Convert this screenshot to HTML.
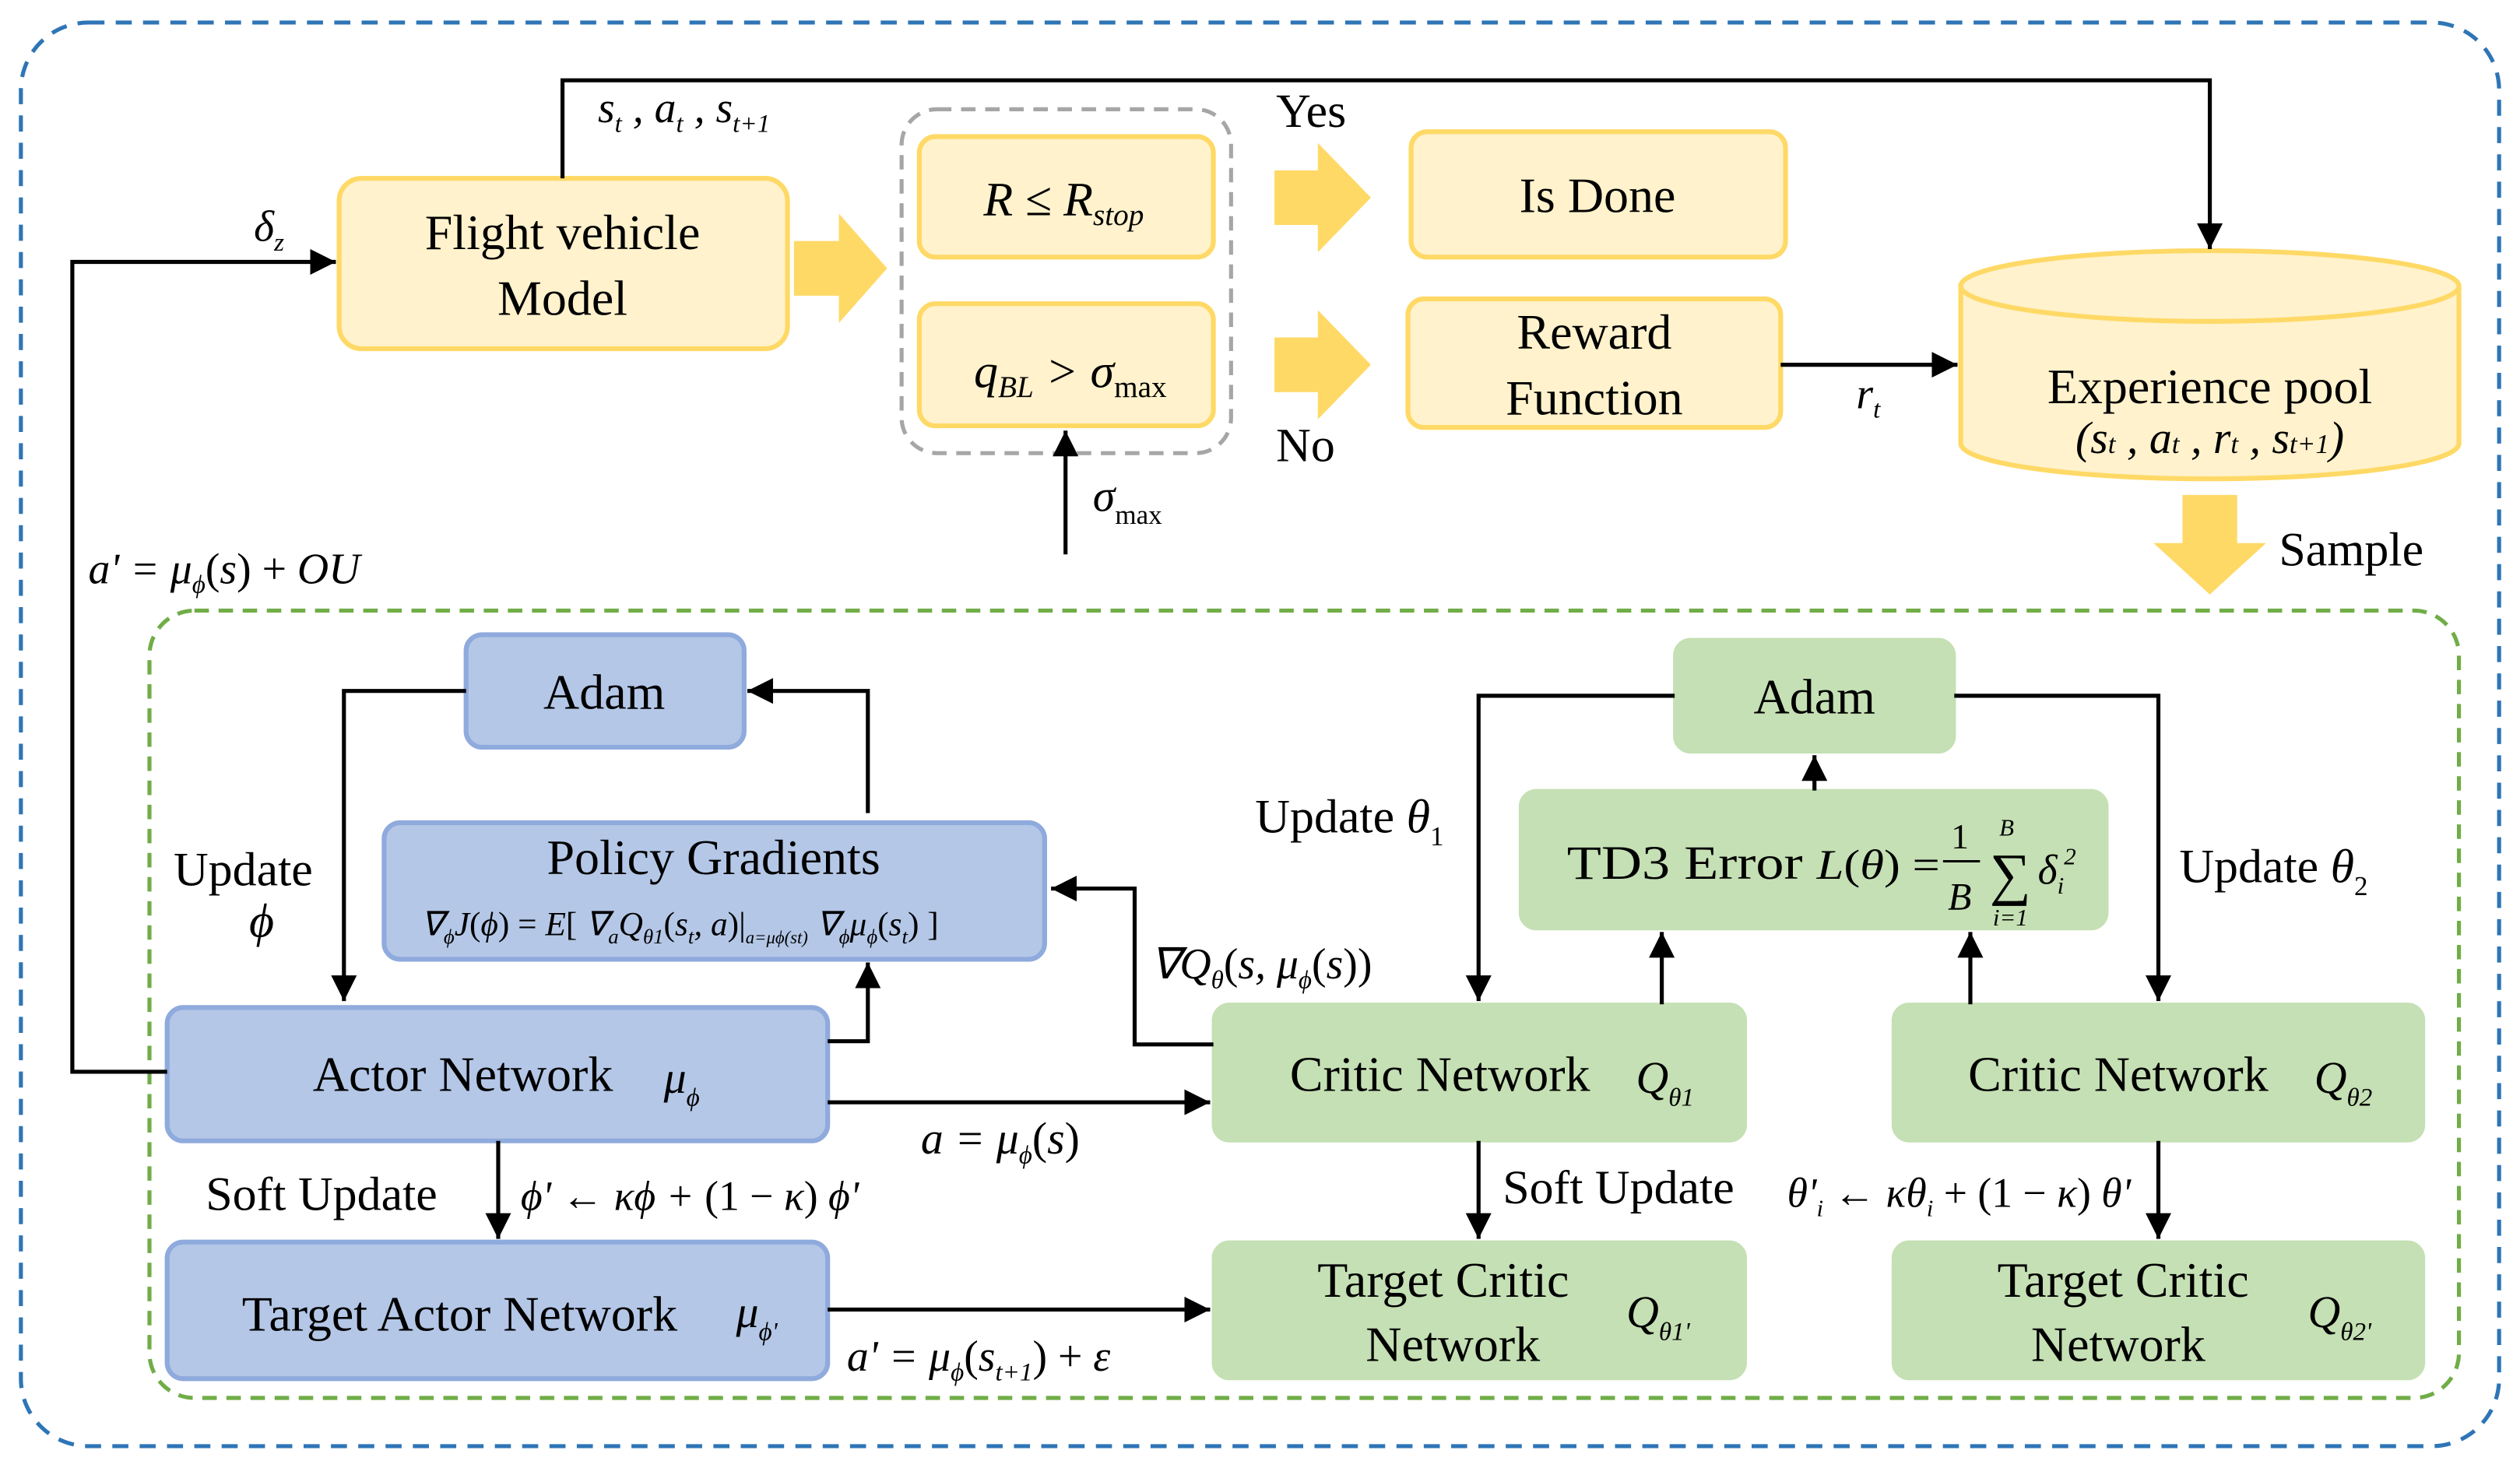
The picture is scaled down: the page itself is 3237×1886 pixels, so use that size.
<!DOCTYPE html>
<html><head><meta charset="utf-8"><style>
html,body{margin:0;padding:0;background:#fff;}
svg{display:block;}
text{font-family:"Liberation Serif",serif;fill:#000;}
.i{font-style:italic;}
</style></head><body>
<svg width="3237" height="1886" viewBox="0 0 1568 913.6" preserveAspectRatio="none" xmlns="http://www.w3.org/2000/svg">
<defs>
<marker id="a" viewBox="0 0 10 10" markerWidth="16" markerHeight="16" refX="10" refY="5" orient="auto" markerUnits="userSpaceOnUse"><path d="M0,0 L10,5 L0,10 z" fill="#000"/></marker>
</defs>
<rect x="13" y="14" width="1542" height="886" rx="42" fill="none" stroke="#2e75b6" stroke-width="2.5" stroke-dasharray="10,7"/>
<rect x="93" y="380" width="1437" height="490" rx="28" fill="none" stroke="#70ad47" stroke-width="2.5" stroke-dasharray="9,6"/>
<rect x="561" y="68" width="205" height="214" rx="22" fill="none" stroke="#a6a6a6" stroke-width="2.5" stroke-dasharray="9,6"/>

<g fill="#fff2cc" stroke="#ffd966" stroke-width="3">
<rect x="211" y="111" width="279" height="106" rx="14"/>
<rect x="572" y="85" width="183" height="75" rx="10"/>
<rect x="572" y="189" width="183" height="76" rx="10"/>
<rect x="878" y="82" width="233" height="78" rx="10"/>
<rect x="876" y="186" width="232" height="80" rx="10"/>
<path d="M1220,178 L1220,276 A155,22 0 0 0 1530,276 L1530,178 Z"/>
<ellipse cx="1375" cy="178" rx="155" ry="22"/>
</g>
<g fill="#ffd966" stroke="none">
<path d="M494,150 L522,150 L522,133 L552,167 L522,201 L522,184 L494,184 Z"/>
<path d="M793,106 L820,106 L820,89 L853,123 L820,157 L820,140 L793,140 Z"/>
<path d="M793,210 L820,210 L820,193 L853,227 L820,261 L820,244 L793,244 Z"/>
<path d="M1358,308 L1392,308 L1392,338 L1410,338 L1375,370 L1340,338 L1358,338 Z"/>
</g>
<g fill="#b4c7e7" stroke="#8faadc" stroke-width="3">
<rect x="290" y="395" width="173" height="70" rx="10"/>
<rect x="239" y="512" width="411" height="85" rx="10"/>
<rect x="104" y="627" width="411" height="83" rx="10"/>
<rect x="104" y="773" width="411" height="85" rx="10"/>
</g>
<g fill="#c5e0b4" stroke="#c5e0b4" stroke-width="2">
<rect x="1042" y="398" width="174" height="70" rx="10"/>
<rect x="946" y="492" width="365" height="86" rx="10"/>
<rect x="755" y="625" width="331" height="85" rx="10"/>
<rect x="1178" y="625" width="330" height="85" rx="10"/>
<rect x="755" y="773" width="331" height="85" rx="10"/>
<rect x="1178" y="773" width="330" height="85" rx="10"/>
</g>

<g fill="none" stroke="#000" stroke-width="2.5" marker-end="url(#a)">
<path d="M350,111 L350,50 L1375,50 L1375,155"/>
<path d="M104,667 L45,667 L45,163 L209,163"/>
<path d="M1108,227 L1218,227"/>
<path d="M663,345 L663,268"/>
<path d="M290,430 L214,430 L214,623"/>
<path d="M540,506 L540,430 L465,430"/>
<path d="M515,648 L540,648 L540,599"/>
<path d="M755,650 L706,650 L706,553 L654,553"/>
<path d="M515,686 L753,686"/>
<path d="M1042,433 L920,433 L920,623"/>
<path d="M1216,433 L1343,433 L1343,623"/>
<path d="M1034,625 L1034,580"/>
<path d="M1226,625 L1226,580"/>
<path d="M1129,492 L1129,470"/>
<path d="M310,710 L310,771"/>
<path d="M920,710 L920,771"/>
<path d="M1343,710 L1343,771"/>
<path d="M515,815 L753,815"/>
</g>

<g font-size="31" text-anchor="middle">
<text x="350" y="155">Flight vehicle</text>
<text x="350" y="196">Model</text>
<text x="994" y="132">Is Done</text>
<text x="992" y="217">Reward</text>
<text x="992" y="258">Function</text>
<text x="1375" y="251">Experience pool</text>
<text x="1375" y="282" class="i" font-size="28">(s<tspan font-size="17">t</tspan> , a<tspan font-size="17">t</tspan> , r<tspan font-size="17">t</tspan> , s<tspan font-size="17">t+1</tspan>)</text>
<text x="376" y="441">Adam</text>
<text x="1129" y="444">Adam</text>
<text x="444" y="544">Policy Gradients</text>
<text x="288" y="679">Actor Network</text>
<text x="286" y="828">Target Actor Network</text>
<text x="896" y="679">Critic Network</text>
<text x="1318" y="679">Critic Network</text>
<text x="898" y="807">Target Critic</text>
<text x="904" y="847">Network</text>
<text x="1321" y="807">Target Critic</text>
<text x="1318" y="847">Network</text>
</g>
<g font-size="30">
<text x="975" y="547" textLength="232" lengthAdjust="spacingAndGlyphs">TD3 Error <tspan class="i" font-size="26">L</tspan><tspan font-size="26">(</tspan><tspan class="i" font-size="26">θ</tspan><tspan font-size="26">) = </tspan></text>
<text x="1214" y="528" font-size="22">1</text><line x1="1209" y1="536" x2="1232" y2="536" stroke="#000" stroke-width="1.5"/><text x="1212" y="566" font-size="24" class="i">B</text>
<text x="1238" y="556" font-size="36">∑</text><text x="1244" y="520" font-size="15" class="i">B</text><text x="1240" y="576" font-size="15" class="i">i=1</text>
<text x="1268" y="550" font-size="26" class="i">δ<tspan font-size="15" dy="6">i</tspan><tspan font-size="15" dy="-18">2</tspan></text>
<text x="612" y="134" class="i">R ≤ R<tspan font-size="19" dy="6">stop</tspan></text>
<text x="606" y="241" class="i">q<tspan font-size="19" dy="6">BL</tspan><tspan dy="-6"> &gt; σ</tspan><tspan font-size="19" dy="6" font-style="normal">max</tspan></text>
<text x="794" y="79">Yes</text>
<text x="794" y="287">No</text>
<text x="1418" y="352">Sample</text>
<text x="372" y="76" class="i" font-size="27">s<tspan font-size="16" dy="6">t</tspan><tspan dy="-6"> , a</tspan><tspan font-size="16" dy="6">t</tspan><tspan dy="-6"> , s</tspan><tspan font-size="16" dy="6">t+1</tspan></text>
<text x="158" y="150" class="i" font-size="27">δ<tspan font-size="16" dy="6">z</tspan></text>
<text x="1155" y="254" class="i" font-size="27">r<tspan font-size="16" dy="6">t</tspan></text>
<text x="680" y="318" class="i" font-size="28">σ<tspan font-size="17" dy="8" font-style="normal">max</tspan></text>
<text x="55" y="363" class="i" font-size="27">a' = μ<tspan font-size="16" dy="6">ϕ</tspan><tspan dy="-6" font-style="normal">(</tspan>s<tspan font-style="normal">) + </tspan>OU</text>
<text x="108" y="551">Update</text>
<text x="155" y="583" class="i">ϕ</text>
<text x="781" y="518">Update <tspan class="i">θ</tspan><tspan font-size="17" dy="8">1</tspan></text>
<text x="1356" y="549">Update <tspan class="i">θ</tspan><tspan font-size="17" dy="8">2</tspan></text>
<text x="128" y="753">Soft Update</text>
<text x="935" y="749">Soft Update</text>
<text x="324" y="753" class="i" font-size="26">ϕ' ← κϕ + <tspan font-style="normal">(1 − </tspan>κ<tspan font-style="normal">)</tspan> ϕ'</text>
<text x="1112" y="751" class="i" font-size="26">θ'<tspan font-size="15" dy="6">i</tspan><tspan dy="-6"> ← κθ</tspan><tspan font-size="15" dy="6">i</tspan><tspan dy="-6" font-style="normal"> + (1 − </tspan>κ<tspan font-style="normal">)</tspan> θ'</text>
<text x="262" y="582" font-size="21" class="i">∇<tspan font-size="13" dy="5">ϕ</tspan><tspan dy="-5">J</tspan><tspan font-style="normal">(</tspan>ϕ<tspan font-style="normal">) = </tspan>E<tspan font-style="normal">[ </tspan>∇<tspan font-size="13" dy="5">a</tspan><tspan dy="-5">Q</tspan><tspan font-size="13" dy="5">θ1</tspan><tspan dy="-5" font-style="normal">(</tspan>s<tspan font-size="13" dy="5">t</tspan><tspan dy="-5">, a</tspan><tspan font-style="normal">)|</tspan><tspan font-size="11" dy="5">a=μϕ(st)</tspan><tspan dy="-5"> ∇</tspan><tspan font-size="13" dy="5">ϕ</tspan><tspan dy="-5">μ</tspan><tspan font-size="13" dy="5">ϕ</tspan><tspan dy="-5" font-style="normal">(</tspan>s<tspan font-size="13" dy="5">t</tspan><tspan dy="-5" font-style="normal">) ]</tspan></text>
<text x="716" y="609" class="i" font-size="27">∇Q<tspan font-size="16" dy="6">θ</tspan><tspan dy="-6" font-style="normal">(</tspan>s, μ<tspan font-size="16" dy="6">ϕ</tspan><tspan dy="-6" font-style="normal">(</tspan>s<tspan font-style="normal">))</tspan></text>
<text x="573" y="718" class="i" font-size="28">a = μ<tspan font-size="16" dy="6">ϕ</tspan><tspan dy="-6" font-style="normal">(</tspan>s<tspan font-style="normal">)</tspan></text>
<text x="527" y="853" class="i" font-size="27">a' = μ<tspan font-size="16" dy="6">ϕ</tspan><tspan dy="-6" font-style="normal">(</tspan>s<tspan font-size="16" dy="6">t+1</tspan><tspan dy="-6" font-style="normal">) + </tspan>ε</text>
<text x="413" y="680" class="i" font-size="28">μ<tspan font-size="16" dy="8">ϕ</tspan></text>
<text x="458" y="826" class="i" font-size="28">μ<tspan font-size="16" dy="8">ϕ'</tspan></text>
<text x="1018" y="680" class="i" font-size="28">Q<tspan font-size="16" dy="8">θ1</tspan></text>
<text x="1440" y="680" class="i" font-size="28">Q<tspan font-size="16" dy="8">θ2</tspan></text>
<text x="1012" y="826" class="i" font-size="28">Q<tspan font-size="16" dy="8">θ1'</tspan></text>
<text x="1436" y="826" class="i" font-size="28">Q<tspan font-size="16" dy="8">θ2'</tspan></text>
</g>
</svg>
</body></html>
